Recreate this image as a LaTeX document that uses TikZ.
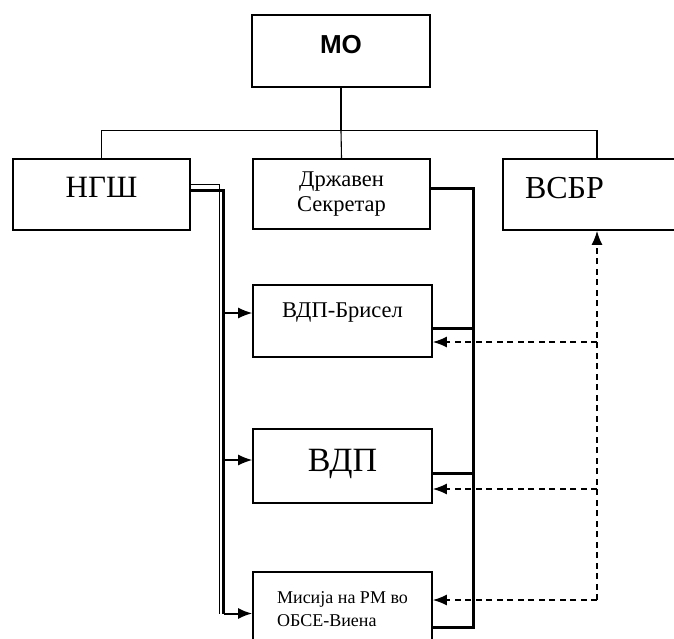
\documentclass[tikz,border=0pt]{standalone}
\usepackage{fontspec}
\setmainfont{Liberation Serif}
\newfontfamily\arialfont{Liberation Sans}
\usetikzlibrary{arrows.meta,positioning,calc}

\begin{document}
\begin{tikzpicture}[
  x=1pt, y=-1pt,
  box/.style={draw, line width=1.6pt, align=center, inner sep=2pt},
  big/.style={font=\fontsize{31}{34}\selectfont, text depth=14pt},
  tree/.style={line width=1.1pt},
  bus/.style={line width=3pt},
  feed/.style={line width=1.4pt, -{Latex[length=14pt,width=11pt]}},
  report/.style={line width=1.6pt, dash pattern=on 6pt off 4.5pt, -{Latex[length=14pt,width=11pt]}}
]
  \useasboundingbox (0,0) rectangle (674,638);

  % top and first row
  \node[box, minimum width=178pt, minimum height=72pt, text depth=14pt,
        font=\arialfont\bfseries\fontsize{26}{28}\selectfont] (mo) at (341,51) {МО};
  \node[box, big, minimum width=177pt, minimum height=71pt] (ngsh) at (101.5,194.5) {НГШ};
  \node[box, minimum width=177pt, minimum height=70pt,
        font=\fontsize{22.5}{25}\selectfont] (drzh) at (341.5,194) {Државен\\Секретар};
  \node[box, big, minimum width=188pt, minimum height=71pt, inner xsep=22pt,
        text width=144pt, align=left, font=\fontsize{32}{34}\selectfont] (vsbr) at (597,194.5) {ВСБР};

  % missions
  \node[box, minimum width=179pt, minimum height=72pt, text depth=22pt,
        font=\fontsize{22.5}{26}\selectfont] (bris) at (342.5,321) {ВДП-Брисел};
  \node[box, big, minimum width=179pt, minimum height=74pt, text depth=12pt,
        font=\fontsize{34}{36}\selectfont] (vdp) at (342.5,466) {ВДП};
  \node[box, minimum width=179pt, minimum height=74pt, align=left,
        font=\fontsize{18}{23}\selectfont] (mis) at (342.5,609) {Мисија на РМ во\\ОБСЕ-Виена};

  % tree from MO
  \draw[tree] (mo.south) -- ++(0,43) coordinate (fork);
  \draw[tree] (ngsh.north) -- (ngsh.north |- fork) -- (vsbr.north |- fork) -- (vsbr.north);
  \draw[tree] (fork) -- (drzh.north);

  % NGSh lines
  \coordinate (nbus) at ([xshift=33pt,yshift=4.5pt]ngsh.east);
  \coordinate (nbus2) at ([xshift=-4pt,yshift=6pt]nbus);
  \coordinate (bris_l) at ([yshift=8pt]bris.west);
  \coordinate (vdp_l) at ([yshift=6pt]vdp.west);
  \coordinate (mis_l) at ([yshift=-4.5pt]mis.west);
  \draw[line width=0.9pt] ([yshift=10.5pt]ngsh.east) -- (nbus2) -- (nbus2 |- mis_l);
  \draw[bus] ([yshift=4.5pt]ngsh.east) -- (nbus) -- (nbus |- mis_l);
  \draw[feed, line width=2pt] (nbus |- mis_l) -- (mis_l);
  \draw[feed] (nbus |- bris_l) -- (bris_l);
  \draw[feed] (nbus |- vdp_l) -- (vdp_l);

  % state secretary lines
  \coordinate (dbus) at ([xshift=43pt,yshift=6pt]drzh.east);
  \coordinate (bris_r) at ([yshift=-7pt]bris.east);
  \coordinate (vdp_r) at ([yshift=-7pt]vdp.east);
  \coordinate (mis_r) at ([yshift=-18pt]mis.east);
  \draw[bus] ([yshift=6pt]drzh.east) -- (dbus) |- (mis_r);
  \draw[bus] (bris_r) -- (dbus |- bris_r);
  \draw[bus] (vdp_r) -- (dbus |- vdp_r);

  % reporting to VSBR
  \coordinate (bris_d) at ([yshift=-21pt]bris.east);
  \coordinate (vdp_d) at ([yshift=-23pt]vdp.east);
  \coordinate (mis_d) at ([yshift=9pt]mis.east);
  \draw[report] (vsbr.south |- mis_d) -- (vsbr.south);
  \foreach \t in {bris_d, vdp_d, mis_d}
    \draw[report] (vsbr.south |- \t) -- (\t);
\end{tikzpicture}
\end{document}
